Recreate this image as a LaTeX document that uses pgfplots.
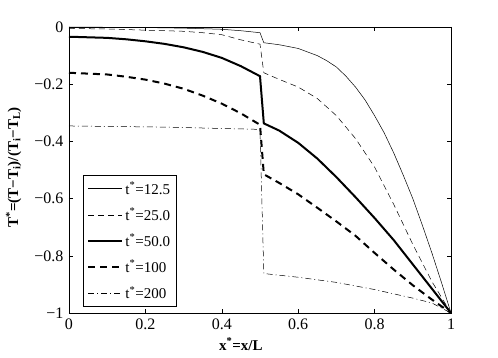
\documentclass[border=0pt]{standalone}
\usepackage{fontspec}
\setmainfont{Liberation Serif}
\usepackage{pgfplots}
\pgfplotsset{compat=1.18}

\begin{document}
\begin{tikzpicture}
  \begin{axis}[
      scale only axis,
      width=382bp, height=286bp,
      xmin=0, xmax=1, ymin=-1, ymax=0,
      xtick={0,0.2,0.4,0.6,0.8,1},
      xticklabels={0,0.2,0.4,0.6,0.8,1},
      ytick={-1,-0.8,-0.6,-0.4,-0.2,0},
      yticklabels={−1,−0.8,−0.6,−0.4,−0.2,0},
      tick align=inside,
      major tick length=4bp,
      axis line style={black,line width=0.6bp},
      tick style={black,line width=0.5bp},
      ticklabel style={font=\fontsize{16bp}{19bp}\selectfont},
      xticklabel style={yshift=-2bp},
      yticklabel style={xshift=-2bp},
      xlabel={\bfseries x\textsuperscript{*}=x/L},
      ylabel={\bfseries T\textsuperscript{*}=(T−T\textsubscript{i})/(T\textsubscript{i}−T\textsubscript{L})},
      label style={font=\fontsize{15bp}{18bp}\selectfont},
      xlabel style={at={(axis description cs:0.45,-0.1294)},anchor=base},
      ylabel style={at={(axis description cs:-0.1335,0.509)},anchor=base},
      legend image code/.code={\draw[#1] (0bp,0bp) -- (34bp,0bp);},
      legend cell align=left,
      legend style={at={(axis description cs:0.037,0.021)},anchor=south west,
        draw=black, line width=0.5bp,
        font=\fontsize{15bp}{17bp}\selectfont,
        inner xsep=4bp, inner ysep=5bp,
        row sep=8.5bp},
    ]
    % t* = 12.5
    \addplot[black,line width=0.5bp] coordinates {
      (0,0) (0.1,-0.001) (0.2,-0.002) (0.3,-0.004) (0.4,-0.008) (0.45,-0.013)
      (0.5,-0.02) (0.51,-0.055) (0.55,-0.062) (0.6,-0.075) (0.65,-0.10)
      (0.675,-0.118) (0.7,-0.14) (0.725,-0.172) (0.75,-0.21) (0.775,-0.255)
      (0.8,-0.31) (0.825,-0.37) (0.85,-0.44) (0.875,-0.518) (0.9,-0.6)
      (0.925,-0.693) (0.95,-0.79) (0.975,-0.893) (1,-1)};
    % t* = 25
    \addplot[black,line width=0.5bp,dash pattern=on 6bp off 4bp] coordinates {
      (0,-0.005) (0.1,-0.007) (0.2,-0.011) (0.3,-0.015) (0.35,-0.02)
      (0.4,-0.027) (0.45,-0.045) (0.5,-0.06) (0.51,-0.16) (0.55,-0.183)
      (0.6,-0.21) (0.65,-0.25) (0.7,-0.31) (0.75,-0.39) (0.8,-0.49)
      (0.85,-0.62) (0.9,-0.76) (0.95,-0.89) (1,-1)};
    % t* = 50
    \addplot[black,line width=2bp] coordinates {
      (0,-0.034) (0.1,-0.038) (0.15,-0.043) (0.2,-0.05) (0.25,-0.059)
      (0.3,-0.071) (0.35,-0.087) (0.4,-0.108) (0.45,-0.137) (0.5,-0.172)
      (0.51,-0.337) (0.55,-0.362) (0.6,-0.405) (0.65,-0.46) (0.7,-0.525)
      (0.75,-0.595) (0.8,-0.668) (0.85,-0.745) (0.9,-0.83) (0.95,-0.915) (1,-1)};
    % t* = 100
    \addplot[black,line width=2bp,dash pattern=on 7bp off 5bp] coordinates {
      (0,-0.160) (0.1,-0.166) (0.15,-0.174) (0.2,-0.184) (0.25,-0.198)
      (0.3,-0.216) (0.35,-0.24) (0.4,-0.268) (0.45,-0.302) (0.5,-0.342)
      (0.51,-0.515) (0.55,-0.545) (0.6,-0.585) (0.65,-0.632) (0.7,-0.68)
      (0.75,-0.73) (0.8,-0.79) (0.85,-0.848) (0.9,-0.903) (0.95,-0.953) (1,-1)};
    % t* = 200
    \addplot[black,line width=0.5bp,dash pattern=on 6bp off 3bp on 1bp off 3bp] coordinates {
      (0,-0.346) (0.25,-0.35) (0.5,-0.358) (0.51,-0.862) (0.6,-0.875)
      (0.7,-0.893) (0.8,-0.918) (0.9,-0.948) (0.95,-0.965) (1,-1)};
    \legend{t\textsuperscript{*}=12.5,t\textsuperscript{*}=25.0,t\textsuperscript{*}=50.0,t\textsuperscript{*}=100,t\textsuperscript{*}=200}
  \end{axis}
  \pgfresetboundingbox
  \path ([xshift=-69bp,yshift=-45bp]current axis.south west)
    rectangle ([xshift=47bp,yshift=27bp]current axis.north east);
\end{tikzpicture}
\end{document}
